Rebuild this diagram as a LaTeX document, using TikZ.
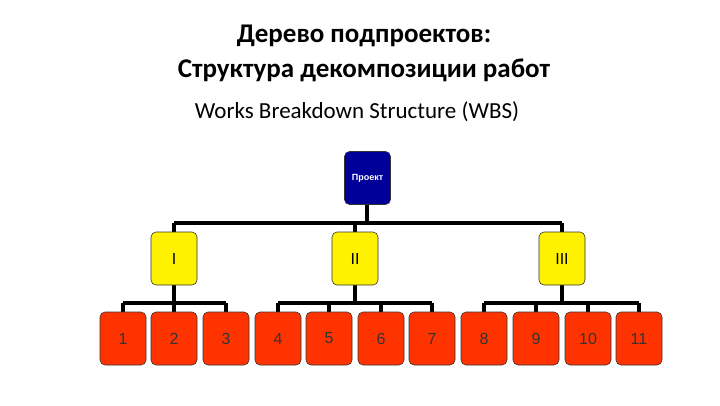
\documentclass[tikz,border=0pt]{standalone}
\usepackage{fontspec}
\setmainfont{Carlito}
\newfontfamily\arial{Liberation Sans}
\definecolor{leafred}{RGB}{255,51,0}
\begin{document}
\begin{tikzpicture}[x=1pt,y=-1pt,
  bx/.style={draw=black!80,line width=0.6pt,rounded corners=5pt,minimum width=46pt,minimum height=53pt,inner sep=0pt,font=\arial\fontsize{16}{16}\selectfont},
  proj/.style={bx,fill=blue!60!black,text=white,font=\arial\bfseries\fontsize{9}{9}\selectfont},
  lvl/.style={bx,fill=yellow},
  leaf/.style={bx,fill=leafred,text=black!80},
  ln/.style={line width=3.5pt}]
\useasboundingbox (0,0) rectangle (720,405);
\node[font=\bfseries\fontsize{27}{35}\selectfont,align=center] (t) at (364,53) {Дерево подпроектов:\\Структура декомпозиции работ};
\node[font=\fontsize{23}{26}\selectfont] (s) at (357,112) {Works Breakdown Structure (WBS)};
\foreach \n/\x in {1/123,2/174,3/226,4/278,5/329,6/381,7/432,8/484,9/536,10/588,11/639}
  \draw[ln] (\x,303) -- (\x,320);
\draw[ln] (367,200) -- (367,223);
\draw[ln] (174,223) -- (562,223);
\foreach \x in {174,355,562} \draw[ln] (\x,223) -- (\x,240) (\x,280) -- (\x,303);
\draw[ln] (123,303) -- (226,303);
\draw[ln] (278,303) -- (432,303);
\draw[ln] (484,303) -- (639,303);
\node[proj] (p) at (367.5,178) {Проект};
\node[lvl] (a) at (174,258.5) {I};
\node[lvl] (b) at (355,258.5) {II};
\node[lvl] (c) at (562,258.5) {III};
\foreach \n/\x in {1/123,2/174,3/226,4/278,5/329,6/381,7/432,8/484,9/536,10/588,11/639}
  \node[leaf] (l\n) at (\x,338.5) {\n};
\end{tikzpicture}
\end{document}
